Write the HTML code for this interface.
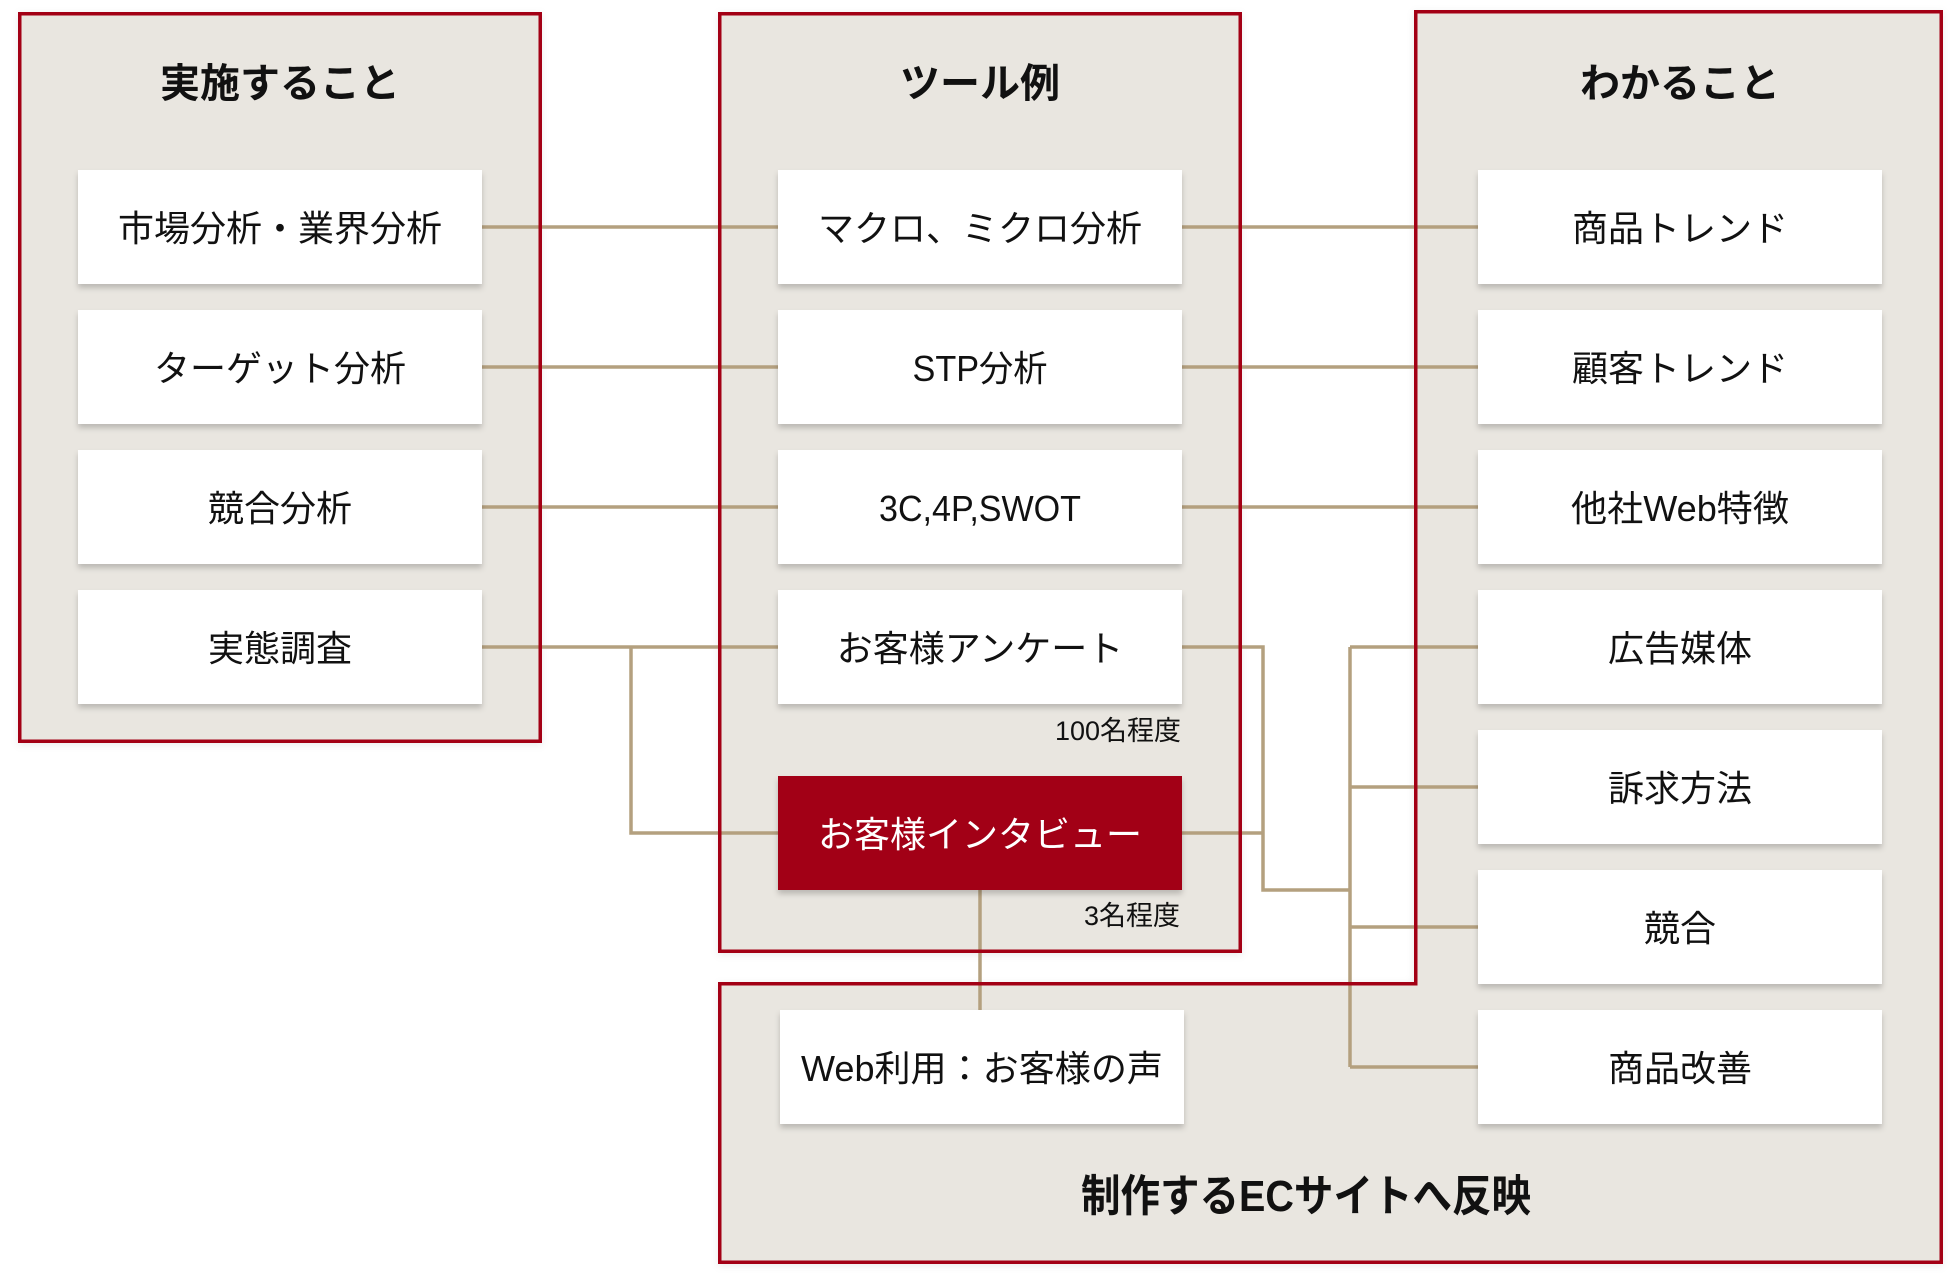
<!DOCTYPE html>
<html>
<head>
<meta charset="utf-8">
<style>
  html, body { margin: 0; padding: 0; background: #ffffff; }
  body { width: 1960px; height: 1286px; overflow: hidden; }
  svg { display: block; }
  .t { font-family: "Liberation Sans", "Noto Sans CJK JP", sans-serif; fill: #111111; }
  .lbl { font-size: 36px; font-weight: 400; }
  .ttl { font-size: 40px; font-weight: 700; }
  .sm { font-size: 27px; font-weight: 400; }
</style>
</head>
<body>
<svg width="1960" height="1286" viewBox="0 0 1960 1286" xmlns="http://www.w3.org/2000/svg">
  <defs>
    <filter id="cshadow" x="-5%" y="-5%" width="110%" height="110%">
      <feDropShadow dx="0" dy="2" stdDeviation="4" flood-color="#000" flood-opacity="0.08"/>
    </filter>
    <filter id="bshadow" x="-10%" y="-20%" width="120%" height="150%">
      <feDropShadow dx="0" dy="4" stdDeviation="3" flood-color="#000" flood-opacity="0.2"/>
    </filter>
  </defs>

  <!-- container fills -->
  <g fill="#e9e6e0" filter="url(#cshadow)">
    <rect x="18" y="12" width="524" height="731"/>
    <rect x="718" y="12" width="524" height="941"/>
    <path d="M1414,10 H1943 V1264 H718 V982 H1414 Z"/>
  </g>

  <!-- connectors -->
  <g stroke="#b4a07f" stroke-width="3.5" fill="none" stroke-linecap="butt" stroke-linejoin="miter">
    <path d="M482,227 H778"/>
    <path d="M482,367 H778"/>
    <path d="M482,507 H778"/>
    <path d="M482,647 H778"/>
    <path d="M631,647 V833 H778"/>
    <path d="M1182,227 H1478"/>
    <path d="M1182,367 H1478"/>
    <path d="M1182,507 H1478"/>
    <path d="M1182,647 H1263 V890 H1350"/>
    <path d="M1182,833 H1263"/>
    <path d="M1350,647 V1067"/>
    <path d="M1350,647 H1478"/>
    <path d="M1350,787 H1478"/>
    <path d="M1350,927 H1478"/>
    <path d="M1350,1067 H1478"/>
    <path d="M980,890 V1010"/>
  </g>

  <!-- white boxes -->
  <g fill="#ffffff" filter="url(#bshadow)">
    <rect x="78" y="170" width="404" height="114"/>
    <rect x="78" y="310" width="404" height="114"/>
    <rect x="78" y="450" width="404" height="114"/>
    <rect x="78" y="590" width="404" height="114"/>

    <rect x="778" y="170" width="404" height="114"/>
    <rect x="778" y="310" width="404" height="114"/>
    <rect x="778" y="450" width="404" height="114"/>
    <rect x="778" y="590" width="404" height="114"/>
    <rect x="778" y="776" width="404" height="114" fill="#a20016"/>

    <rect x="780" y="1010" width="404" height="114"/>

    <rect x="1478" y="170" width="404" height="114"/>
    <rect x="1478" y="310" width="404" height="114"/>
    <rect x="1478" y="450" width="404" height="114"/>
    <rect x="1478" y="590" width="404" height="114"/>
    <rect x="1478" y="730" width="404" height="114"/>
    <rect x="1478" y="870" width="404" height="114"/>
    <rect x="1478" y="1010" width="404" height="114"/>
  </g>

  <!-- container borders -->
  <g fill="none" stroke="#a30015" stroke-width="3.5">
    <rect x="19.75" y="13.75" width="520.5" height="727.5"/>
    <rect x="719.75" y="13.75" width="520.5" height="937.5"/>
    <path d="M1415.75,11.75 H1941.25 V1262.25 H719.75 V983.75 H1415.75 Z"/>
  </g>

  <!-- titles -->
  <text class="t ttl" x="280" y="97" text-anchor="middle">実施すること</text>
  <text class="t ttl" x="980" y="97" text-anchor="middle">ツール例</text>
  <text class="t ttl" x="1680" y="97" text-anchor="middle">わかること</text>
  <text class="t ttl" x="1306" y="1211" text-anchor="middle" style="font-size:44px" textLength="450" lengthAdjust="spacingAndGlyphs">制作するECサイトへ反映</text>

  <!-- left column labels -->
  <text class="t lbl" x="280" y="241" text-anchor="middle">市場分析・業界分析</text>
  <text class="t lbl" x="280" y="381" text-anchor="middle">ターゲット分析</text>
  <text class="t lbl" x="280" y="521" text-anchor="middle">競合分析</text>
  <text class="t lbl" x="280" y="661" text-anchor="middle">実態調査</text>

  <!-- middle column labels -->
  <text class="t lbl" x="980" y="241" text-anchor="middle">マクロ、ミクロ分析</text>
  <text class="t lbl" x="980" y="381" text-anchor="middle" textLength="135" lengthAdjust="spacingAndGlyphs">STP分析</text>
  <text class="t lbl" x="980" y="521" text-anchor="middle" textLength="202" lengthAdjust="spacingAndGlyphs">3C,4P,SWOT</text>
  <text class="t lbl" x="980" y="661" text-anchor="middle">お客様アンケート</text>
  <text class="t sm" x="1181" y="740" text-anchor="end">100名程度</text>
  <text class="t lbl" x="980" y="847" text-anchor="middle" style="fill:#ffffff">お客様インタビュー</text>
  <text class="t sm" x="1180" y="925" text-anchor="end">3名程度</text>

  <!-- web box -->
  <text class="t lbl" x="982" y="1081" text-anchor="middle" textLength="362" lengthAdjust="spacingAndGlyphs">Web利用：お客様の声</text>

  <!-- right column labels -->
  <text class="t lbl" x="1680" y="241" text-anchor="middle">商品トレンド</text>
  <text class="t lbl" x="1680" y="381" text-anchor="middle">顧客トレンド</text>
  <text class="t lbl" x="1680" y="521" text-anchor="middle" textLength="218" lengthAdjust="spacingAndGlyphs">他社Web特徴</text>
  <text class="t lbl" x="1680" y="661" text-anchor="middle">広告媒体</text>
  <text class="t lbl" x="1680" y="801" text-anchor="middle">訴求方法</text>
  <text class="t lbl" x="1680" y="941" text-anchor="middle">競合</text>
  <text class="t lbl" x="1680" y="1081" text-anchor="middle">商品改善</text>
</svg>
</body>
</html>
